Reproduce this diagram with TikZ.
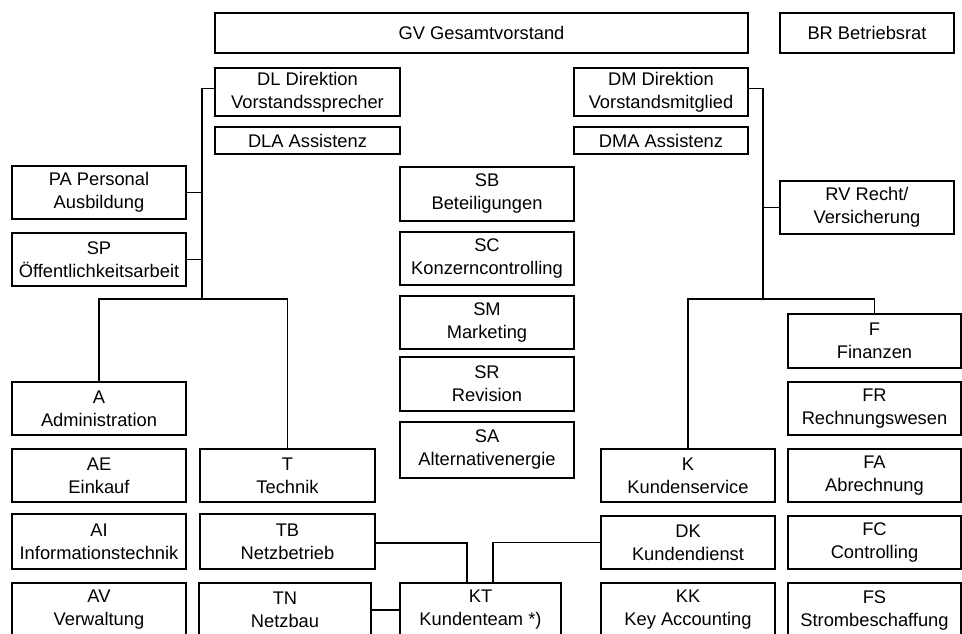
\documentclass[tikz,border=0pt]{standalone}
\usepackage{fontspec}
\setmainfont{Liberation Sans}
\usetikzlibrary{calc}
\tikzset{
  orgbox/.style={draw, rectangle, inner sep=0pt, align=center, line width=1.1pt,
    font=\fontsize{18.3}{23}\selectfont},
  link/.style={line width=1.1pt}
}
\begin{document}
\begin{tikzpicture}[x=1pt,y=1pt]
\useasboundingbox (0,0) rectangle (962,-633);
\clip (0,0) rectangle (962,-633);
% top
\node[orgbox, minimum width=533pt, minimum height=40pt] (GV) at (481.5,-33) {GV Gesamtvorstand};
\node[orgbox, minimum width=174pt, minimum height=40pt] (BR) at (867,-33) {BR Betriebsrat};
\node[orgbox, minimum width=185pt, minimum height=48pt] (DL) at (307.5,-92) {DL Direktion\\Vorstandssprecher};
\node[orgbox, minimum width=185pt, minimum height=27pt] (DLA) at (307.5,-140.5) {DLA Assistenz};
\node[orgbox, minimum width=174pt, minimum height=48pt] (DM) at (661,-92) {DM Direktion\\Vorstandsmitglied};
\node[orgbox, minimum width=174pt, minimum height=27pt] (DMA) at (661,-140.5) {DMA Assistenz};
% left staff
\node[orgbox, minimum width=174pt, minimum height=53pt] (PA) at (99,-192.5) {PA Personal\\Ausbildung};
\node[orgbox, minimum width=174pt, minimum height=53pt] (SP) at (99,-259.5) {SP\\Öffentlichkeitsarbeit};
% centre column
\node[orgbox, minimum width=174pt, minimum height=54pt] (SB) at (487,-194) {SB\\Beteiligungen};
\node[orgbox, minimum width=174pt, minimum height=53pt] (SC) at (487,-258.5) {SC\\Konzerncontrolling};
\node[orgbox, minimum width=174pt, minimum height=53pt] (SM) at (487,-322.5) {SM\\Marketing};
\node[orgbox, minimum width=174pt, minimum height=54pt] (SR) at (487,-384) {SR\\Revision};
\node[orgbox, minimum width=174pt, minimum height=56pt] (SA) at (487,-450) {SA\\Alternativenergie};
% right staff
\node[orgbox, minimum width=174pt, minimum height=53pt] (RV) at (867,-207.5) {RV Recht/\\Versicherung};
% A column
\node[orgbox, minimum width=174pt, minimum height=53pt] (A) at (99,-408.5) {A\\Administration};
\node[orgbox, minimum width=174pt, minimum height=53pt] (AE) at (99,-475.5) {AE\\Einkauf};
\node[orgbox, minimum width=174pt, minimum height=55pt] (AI) at (99,-541.5) {AI\\Informationstechnik};
\node[orgbox, minimum width=174pt, minimum height=54pt] (AV) at (99,-610) {AV\\Verwaltung};
% T column
\node[orgbox, minimum width=175pt, minimum height=53pt] (T) at (287.5,-475.5) {T\\Technik};
\node[orgbox, minimum width=175pt, minimum height=55pt] (TB) at (287.5,-541.5) {TB\\Netzbetrieb};
\node[orgbox, minimum width=172pt, minimum height=54pt] (TN) at (285,-610) {TN\\Netzbau};
\node[orgbox, minimum width=161pt, minimum height=54pt] (KT) at (480.5,-610) {KT\\Kundenteam *)};
% K column
\node[orgbox, minimum width=174pt, minimum height=53pt] (K) at (688,-475.5) {K\\Kundenservice};
\node[orgbox, minimum width=174pt, minimum height=53pt] (DK) at (688,-542.5) {DK\\Kundendienst};
\node[orgbox, minimum width=174pt, minimum height=54pt] (KK) at (688,-610) {KK\\Key Accounting};
% F column
\node[orgbox, minimum width=173pt, minimum height=54pt] (F) at (874.5,-341) {F\\Finanzen};
\node[orgbox, minimum width=173pt, minimum height=53pt] (FR) at (874.5,-408.5) {FR\\Rechnungswesen};
\node[orgbox, minimum width=173pt, minimum height=53pt] (FA) at (874.5,-475.5) {FA\\Abrechnung};
\node[orgbox, minimum width=173pt, minimum height=53pt] (FC) at (874.5,-542.5) {FC\\Controlling};
\node[orgbox, minimum width=173pt, minimum height=54pt] (FS) at (874.5,-610) {FS\\Strombeschaffung};
% junctions
\coordinate (lj) at (202,-299);
\coordinate (rj) at (763,-299);
% connectors
\draw[link] ($(GV.south)+(3.5,0)$) -- ($(GV.south)+(3.5,0)$ |- SB.north);
\draw[link] ($(DL.north west)+(0,-21)$) -| (lj);
\draw[link] (PA.east) -- (PA.east -| lj);
\draw[link] (SP.east) -- (SP.east -| lj);
\draw[link] (A.north) -- (A.north |- lj) -- (T.north |- lj) -- (T.north);
\draw[link] ($(DM.north east)+(0,-21)$) -| (rj);
\draw[link] (RV.west) -- (RV.west -| rj);
\draw[link] (K.north) -- (K.north |- rj) -- (F.north |- rj) -- (F.north);
\draw[link] ($(TB.east)+(0,-1.5)$) -| ($(KT.north)+(-13.5,0)$);
\draw[link] (DK.west) -| ($(KT.north)+(12.5,0)$);
\draw[link] (TN.east) -- (TN.east -| KT.west);
\end{tikzpicture}
\end{document}
